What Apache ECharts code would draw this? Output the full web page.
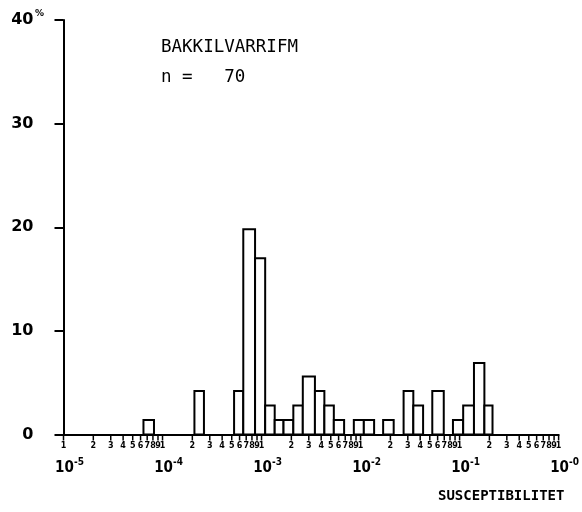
<!DOCTYPE html>
<html>
<head>
<meta charset="utf-8">
<script src="https://cdn.jsdelivr.net/npm/echarts@6/dist/echarts.min.js"></script>
<style>
html,body{margin:0;padding:0;background:#fff;}
#c{width:582px;height:512px;}
</style>
</head>
<body>
<div id="c"></div>
<script>
// Histogram bins (susceptibility, SI)
const binStart = [6.42e-5, 2.10e-4, 5.28e-4, 6.54e-4, 8.60e-4, 1.088e-3, 1.358e-3, 1.667e-3, 2.094e-3, 2.61e-3, 3.46e-3, 4.31e-3, 5.37e-3, 8.55e-3, 1.079e-2, 1.69e-2, 2.72e-2, 3.41e-2, 5.30e-2, 8.57e-2, 0.1087, 0.1397, 0.178];
const binEnd   = [8.2e-5, 2.62e-4, 6.54e-4, 8.60e-4, 1.088e-3, 1.358e-3, 1.667e-3, 2.094e-3, 2.61e-3, 3.46e-3, 4.31e-3, 5.37e-3, 6.82e-3, 1.079e-2, 1.37e-2, 2.16e-2, 3.41e-2, 4.28e-2, 6.92e-2, 0.1087, 0.1397, 0.178, 0.215];
const percent  = [1.4, 4.2, 4.2, 19.8, 17.0, 2.8, 1.4, 1.4, 2.8, 5.6, 4.2, 2.8, 1.4, 1.4, 1.4, 1.4, 4.2, 2.8, 4.2, 1.4, 2.8, 6.9, 2.8];

// Axis tick labels
const decadeExponents = [-5, -4, -3, -2, -1, 0];
const decadeSupLabels = ['-5', '-4', '-3', '-2', '-1', '-0'];
const minorDigits = [1, 2, 3, 4, 5, 6, 7, 8, 9];
const yTickLabels = ['0', '10', '20', '30', '40'];

const titleText = 'BAKKILVARRIFM';
const nText = 'n =   70';
const xAxisTitle = 'SUSCEPTIBILITET';

const barData = binStart.map((s, i) => [s, binEnd[i], percent[i]]);

const tickData = [];
for (let d = 0; d < decadeExponents.length - 1; d++) {
  for (const m of minorDigits) tickData.push([m * Math.pow(10, decadeExponents[d]), m]);
}
tickData.push([Math.pow(10, decadeExponents[decadeExponents.length - 1]), 1]);

const chart = echarts.init(document.getElementById('c'), null, {renderer: 'canvas'});
const option = {
  backgroundColor: '#ffffff',
  animation: false,
  grid: {left: 63.5, right: 14, top: 20, bottom: 77.5, containLabel: false},
  xAxis: {
    type: 'log', logBase: 10, min: 1e-5, max: 1,
    axisLine: {show: true, lineStyle: {color: '#000', width: 2}},
    axisTick: {show: false},
    splitLine: {show: false},
    minorTick: {show: false},
    axisLabel: {
      margin: 23,
      formatter: function (v) {
        const e = Math.round(Math.log10(v));
        const idx = decadeExponents.indexOf(e);
        return '{s| }{b|10}{p|' + decadeSupLabels[idx] + '}';
      },
      rich: {
        s: {width: 12},
        b: {fontSize: 15, fontWeight: 'bold', fontFamily: 'DejaVu Sans Condensed', color: '#000', lineHeight: 18, verticalAlign: 'bottom'},
        p: {fontSize: 10, fontWeight: 'bold', fontFamily: 'DejaVu Sans Condensed', color: '#000', lineHeight: 18, verticalAlign: 'top'}
      }
    }
  },
  yAxis: {
    type: 'value', min: 0, max: 40, interval: 10,
    axisLine: {show: true, lineStyle: {color: '#000', width: 2}},
    axisTick: {show: true, length: 9, inside: false, lineStyle: {color: '#000', width: 2}},
    splitLine: {show: false},
    axisLabel: {
      margin: 30,
      color: '#000',
      fontSize: 16,
      fontWeight: 'bold',
      fontFamily: 'DejaVu Sans',
      padding: [0, 0, 8, 0],
      formatter: function (v) { return yTickLabels[Math.round(v / 10)]; }
    }
  },
  series: [
    {
      type: 'custom',
      name: 'bars',
      data: barData,
      encode: {x: [0, 1], y: 2},
      renderItem: function (params, api) {
        const p0 = api.coord([api.value(0), api.value(2)]);
        const p1 = api.coord([api.value(1), 0]);
        return {
          type: 'rect',
          shape: {x: p0[0], y: p0[1], width: p1[0] - p0[0], height: p1[1] - p0[1]},
          style: {fill: '#fff', stroke: '#000', lineWidth: 2}
        };
      },
      z: 2
    },
    {
      type: 'custom',
      name: 'ticks',
      data: tickData,
      encode: {x: 0},
      clip: false,
      silent: true,
      renderItem: function (params, api) {
        const p = api.coord([api.value(0), 0]);
        return {
          type: 'group',
          children: [
            {type: 'line', shape: {x1: p[0], y1: p[1], x2: p[0], y2: p[1] + 6}, style: {stroke: '#000', lineWidth: 1.5}},
            {type: 'text', x: p[0], y: p[1] + 11, style: {text: String(api.value(1)), fontSize: 8, fontWeight: 'bold', fontFamily: 'DejaVu Sans', fill: '#000', align: 'center', verticalAlign: 'middle'}}
          ]
        };
      },
      z: 3
    }
  ],
  graphic: [
    {type: 'text', left: 161, top: 38, style: {text: titleText, fontSize: 17.5, fontFamily: 'DejaVu Sans Mono', fill: '#000'}},
    {type: 'text', left: 161, top: 68, style: {text: nText, fontSize: 17.5, fontFamily: 'DejaVu Sans Mono', fill: '#000'}},
    {type: 'text', left: 35, top: 9, style: {text: '%', fontSize: 9, fontWeight: 'bold', fontFamily: 'DejaVu Sans', fill: '#000'}},
    {type: 'text', left: 438, top: 489, style: {text: xAxisTitle, fontSize: 14, fontWeight: 'bold', fontFamily: 'DejaVu Sans Mono', fill: '#000'}}
  ]
};
chart.setOption(option);
</script>
</body>
</html>
